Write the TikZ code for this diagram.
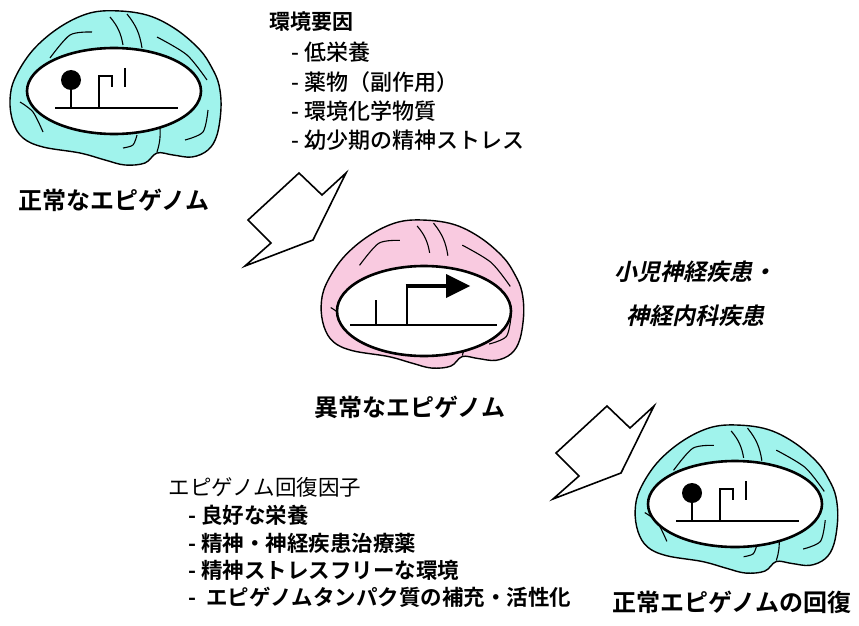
\documentclass[tikz,border=0pt]{standalone}
\usepackage{fontspec}
\setmainfont{Noto Sans CJK JP}[BoldFont={Noto Sans CJK JP Bold}]
\newfontfamily\mediumfont{Noto Sans CJK JP Medium}
\newfontfamily\slantfont{Noto Sans CJK JP Bold}[FakeSlant=0.22]
\usetikzlibrary{shapes.geometric}

\definecolor{lobecyan}{RGB}{160,243,236}
\definecolor{lobepink}{RGB}{249,202,224}

\tikzset{
  % brain seen from the side, origin at the middle of the ellipse
  pics/brain/.style={code={
    \draw [fill=#1, line width=1.4pt] plot [smooth cycle, tension=0.6] coordinates {
      (-104,9) (-101,31) (-91,47) (-71,56) (-34,62) (-9,69) (11,74) (31,72)
      (43,62) (59,64) (78,66) (94,59) (103,44) (107,17) (105,-6) (98,-23)
      (86,-41) (63,-61) (36,-75) (6,-80) (-24,-78) (-54,-64) (-81,-41) (-99,-13)};
    \draw [line width=1.1pt] plot [smooth] coordinates {(-64,-33) (-44,-56) (-22,-59)};
    \draw [line width=1.1pt] (-4,-74) to [bend left=15] (9,-46);
    \draw [line width=1.1pt] (13,-77) to [bend left=15] (28,-43);
    \draw [line width=1.1pt] plot [smooth] coordinates {(43,-54) (73,-36) (93,-11)};
    \draw [line width=1.1pt] plot [smooth] coordinates {(94,19) (89,41) (71,49)};
    \draw [line width=1.1pt] plot [smooth] coordinates {(23,44) (19,54) (9,57)};
    \draw [line width=1.1pt] (46,37) to [bend left=10] (43,61);
    \draw [line width=1.1pt] plot [smooth] coordinates {(-94,11) (-81,21) (-71,41)};
  }},
  % gene switched off
  pics/silent/.style={code={
    \draw [line width=2.6pt] (-59,17) -- (64,17);
    \draw [line width=2pt] (-43,17) -- (-43,-3);
    \fill (-43,-11) circle [radius=10];
    \draw [line width=2.2pt] (-15,17) -- (-15,-15) -- (-2,-15) -- (-2,-4);
    \draw [line width=2.2pt] (11,-23) -- (11,-4);
  }},
  % gene switched on
  pics/active/.style={code={
    \draw [line width=2.6pt] (-74,14) -- (73,14);
    \draw [line width=2.2pt] (-48,14) -- (-48,-11);
    \draw [line width=2.6pt] (-17,14) -- (-17,-25);
    \draw [line width=4.5pt] (-18.3,-25) -- (24,-25);
    \fill (22,-37) -- (46,-25) -- (22,-13) -- cycle;
  }},
  % hollow bent arrow between the stages
  pics/bentarrow/.style={code={
    \draw [line width=1.6pt, line join=miter]
      (0,0) -- (23,22) -- (47,0) -- (14,67) -- (-54,93) -- (-28,70) -- (-51,47) -- cycle;
  }},
  window/.style={ellipse, draw, line width=2.6pt, fill=white, inner sep=0pt,
    minimum width=174pt, minimum height=86pt},
  caption/.style={font=\fontsize{24}{28}\selectfont\bfseries},
  envhead/.style={anchor=west, font=\fontsize{21}{25}\selectfont\bfseries},
  envitem/.style={anchor=west, font=\fontsize{22}{26}\selectfont\mediumfont},
  curehead/.style={anchor=west, font=\fontsize{21.5}{25}\selectfont},
  cureitem/.style={anchor=west, font=\fontsize{21.5}{25}\selectfont\bfseries},
}

\begin{document}
\begin{tikzpicture}
  [x=1pt, y=-1pt]
  \useasboundingbox (0,0) rectangle (859,626);

  % normal brain
  \pic at (114,91) {brain=lobecyan};
  \node [window] (win1) at (114,91) {};
  \pic at (win1.center) {silent};
  \node [caption] (normal) at (114,200) {正常なエピゲノム};

  % environmental factors
  \node [envhead] (env)  at (266,22)  {環境要因};
  \node [envitem] (env1) at (288,52)  {- 低栄養};
  \node [envitem] (env2) at (288,82)  {- 薬物（副作用）};
  \node [envitem] (env3) at (288,111) {- 環境化学物質};
  \node [envitem] (env4) at (288,140) {- 幼少期の精神ストレス};

  \pic at (299,173) {bentarrow};

  % abnormal brain
  \pic [scale=0.96] at (421,297) {brain=lobepink};
  \node [window, minimum height=90pt] (win2) at (424,311) {};
  \pic at (win2.center) {active};
  \node [caption] (abnormal) at (410,407) {異常なエピゲノム};

  \node [align=center, font=\fontsize{23}{44}\selectfont\slantfont] (disease)
    at (695,294) {小児神経疾患・\\神経内科疾患};

  \pic at (607,406) {bentarrow};

  % recovered brain
  \pic [scale=0.96] at (735,502) {brain=lobecyan};
  \node [window] (win3) at (735,504) {};
  \pic at (win3.center) {silent};
  \node [caption] (recovered) at (732,602) {正常エピゲノムの回復};

  % recovery factors
  \node [curehead] (cure)  at (165,487) {エピゲノム回復因子};
  \node [cureitem] (cure1) at (185,515) {- 良好な栄養};
  \node [cureitem] (cure2) at (185,543) {- 精神・神経疾患治療薬};
  \node [cureitem] (cure3) at (185,570) {- 精神ストレスフリーな環境};
  \node [cureitem] (cure4) at (185,597) {-\ \ エピゲノムタンパク質の補充・活性化};
\end{tikzpicture}
\end{document}
